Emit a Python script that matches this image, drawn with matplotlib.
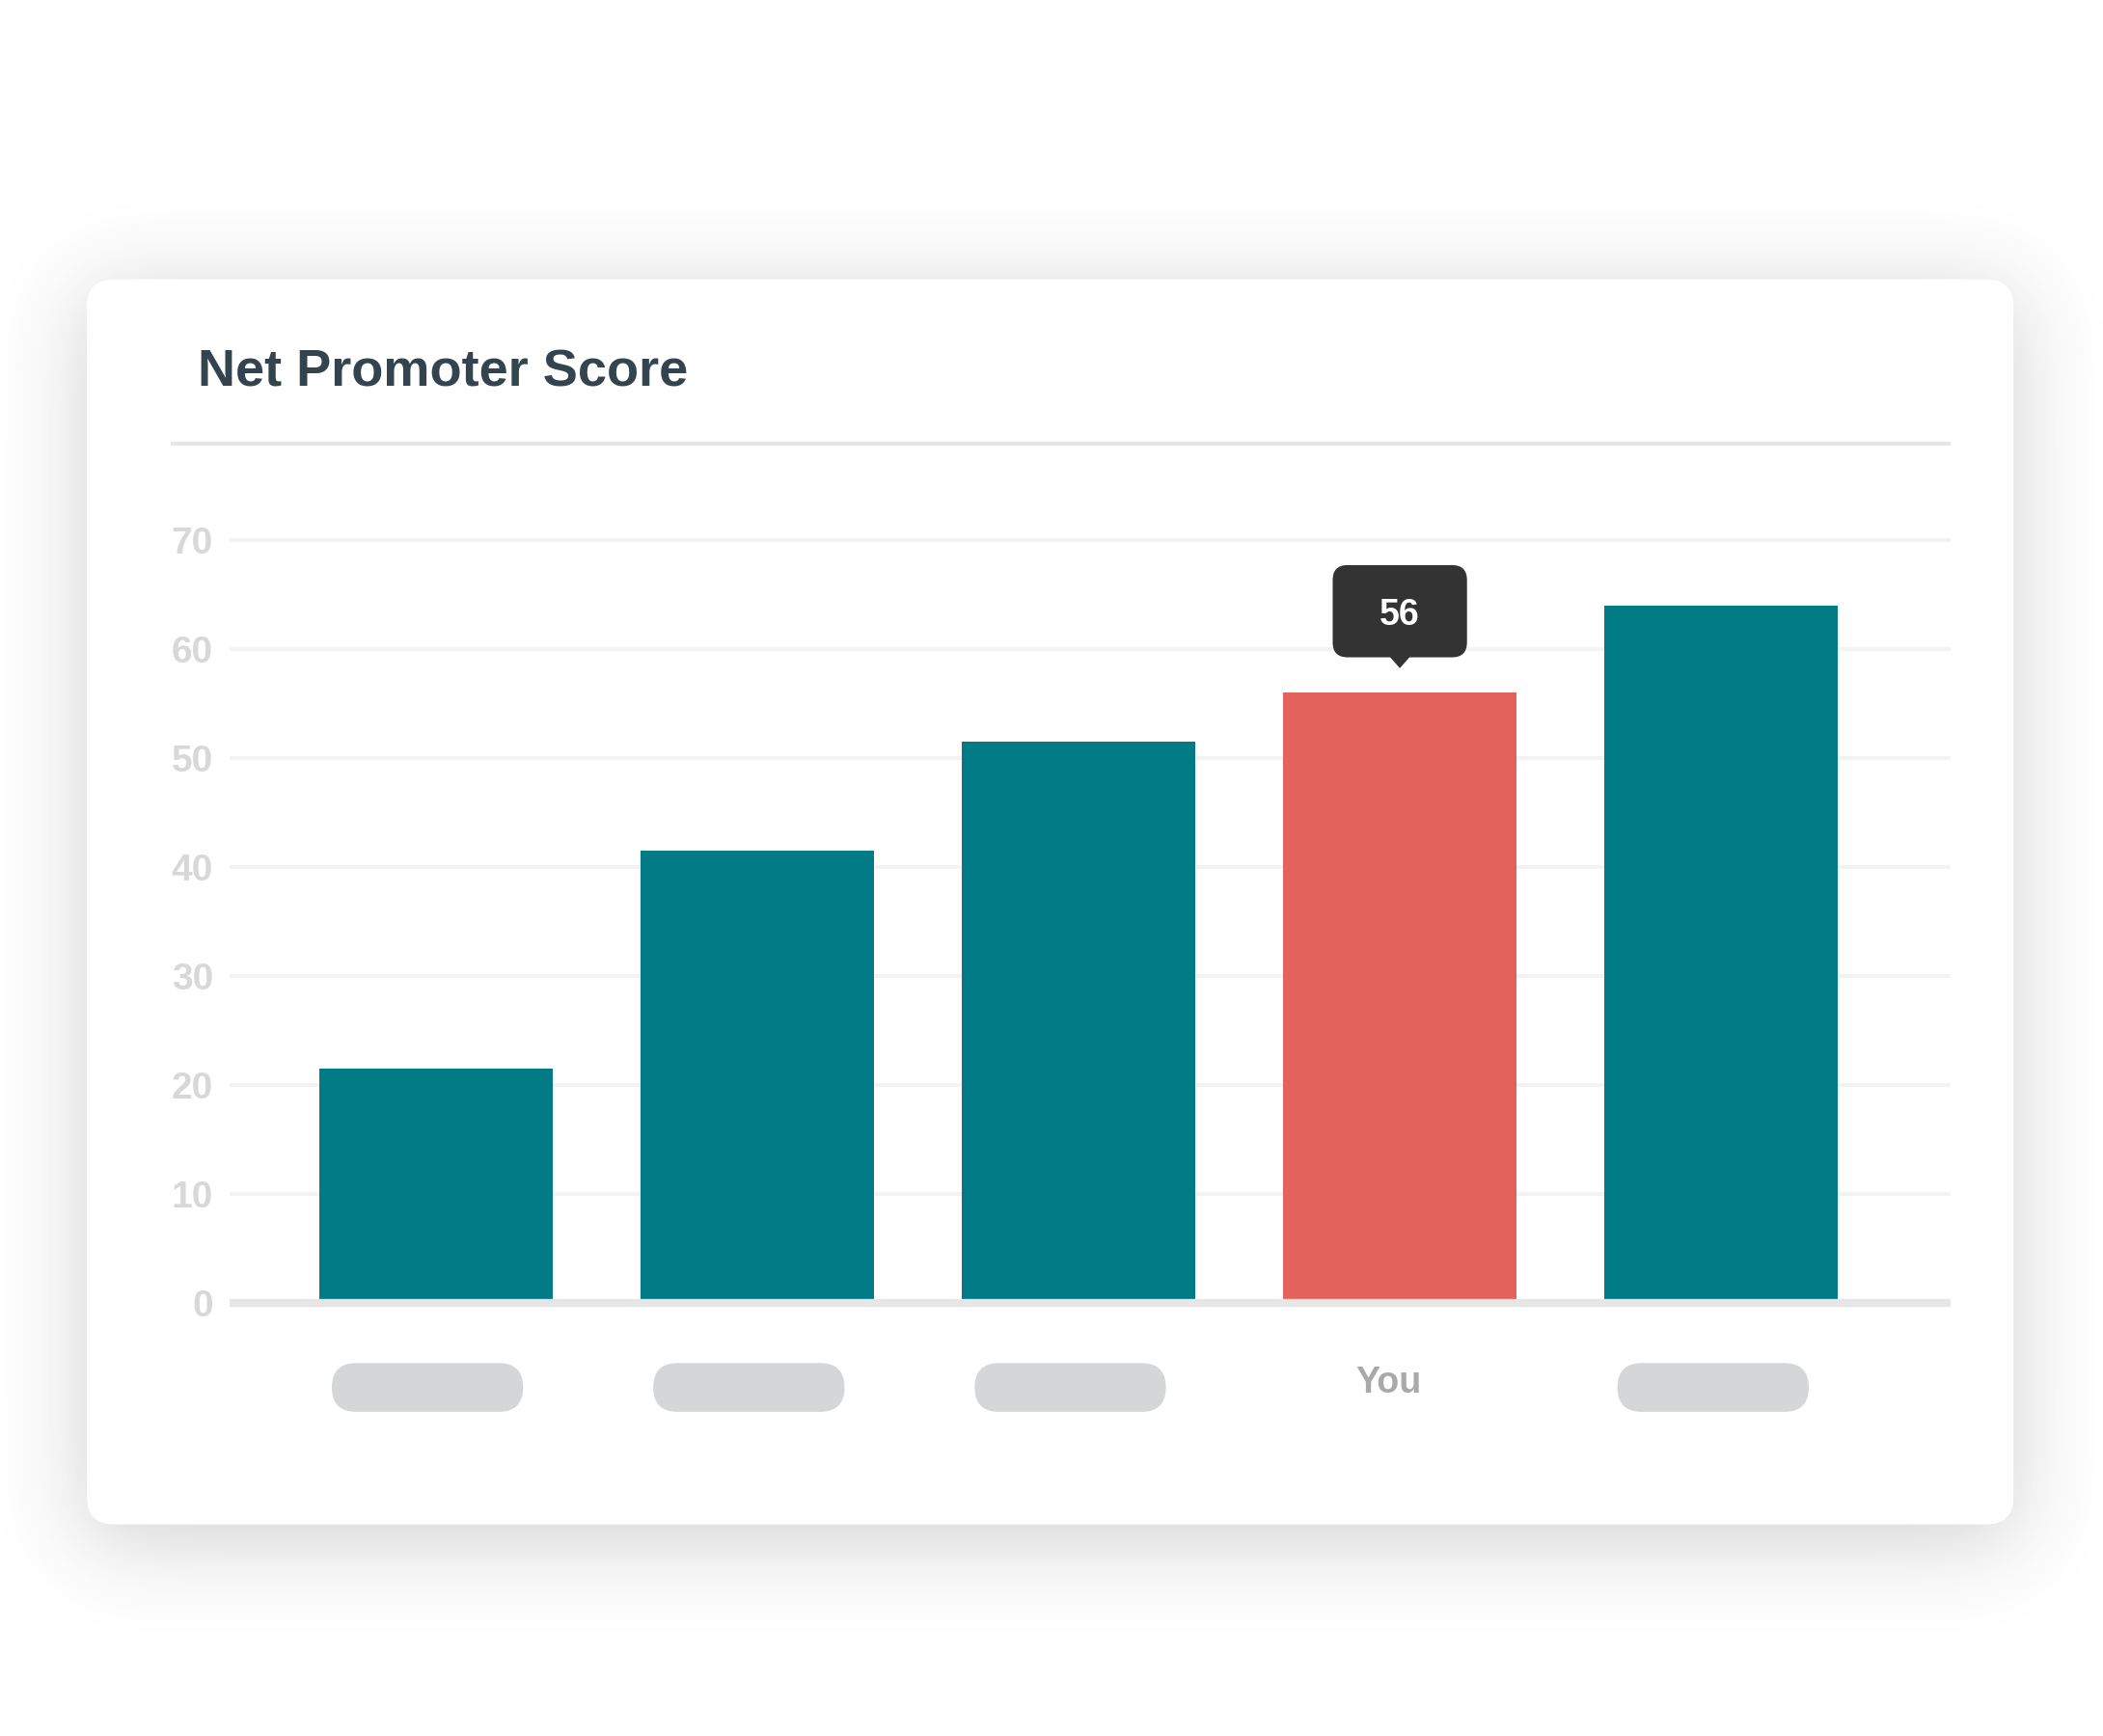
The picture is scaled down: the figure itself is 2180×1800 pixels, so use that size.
import math
import numpy as np
import matplotlib
matplotlib.use("Agg")
import matplotlib.pyplot as plt
from matplotlib.patches import FancyBboxPatch, Polygon

# ---- data ----
categories = ["", "", "", "You", ""]
values = [21.5, 41.5, 51.5, 56, 64]
highlight = [False, False, False, True, False]
yticks = [0, 10, 20, 30, 40, 50, 60, 70]
title = "Net Promoter Score"

TEAL = "#017c87"
RED = "#e3635c"

plt.rcParams['font.family'] = ['Liberation Sans', 'DejaVu Sans']

W, H = 1550, 1280  # layout units (scaled to 2180x1800 px)
fig = plt.figure(figsize=(21.8, 18), dpi=100)
fig.patch.set_facecolor("white")

bg = fig.add_axes([0, 0, 1, 1])
bg.set_xlim(0, W)
bg.set_ylim(H, 0)
bg.axis("off")
bg.set_zorder(0)

# ---- soft shadow ----
erf = np.vectorize(math.erf)
xs = np.linspace(0, W, 776)
ys = np.linspace(0, H, 641)
sig = 32.0
cx0, cx1, cy0, cy1 = 62, 1486, 214, 1138
fx = 0.5 * (erf((xs - cx0) / (sig * math.sqrt(2))) - erf((xs - cx1) / (sig * math.sqrt(2))))
fy = 0.5 * (erf((ys - cy0) / (sig * math.sqrt(2))) - erf((ys - cy1) / (sig * math.sqrt(2))))
a = 0.23 * fy[:, None] * fx[None, :]
img = np.zeros((len(ys), len(xs), 4))
img[..., 0] = 0.25
img[..., 1] = 0.25
img[..., 2] = 0.25
img[..., 3] = a
bg.imshow(img, extent=(0, W, H, 0), interpolation="bilinear", zorder=0, aspect="auto")

# ---- card ----
card = FancyBboxPatch((64, 206), 1420, 918, boxstyle="round,pad=0,rounding_size=20",
                      fc="white", ec="none", zorder=1)
bg.add_patch(card)

bg.text(146, 275, title, fontsize=39, fontweight="bold", color="#34444f",
        ha="left", va="center", zorder=3)
bg.plot([126, 1438], [327, 327], color="#e6e6e6", lw=3, solid_capstyle="butt", zorder=3)

# ---- chart axes ----
ax = fig.add_axes([169 / W, 1 - 977 / H, (1438 - 169) / W, (977 - 382) / H])
ax.set_zorder(2)
ax.patch.set_alpha(0)
x = np.arange(len(values))
colors = [RED if h else TEAL for h in highlight]
ax.bar(x, values, width=0.726, color=colors, zorder=3)
ax.set_xlim(-0.642, 4.715)
ax.set_ylim(-2, 72)
ax.set_yticks(yticks)
ax.set_yticklabels([str(t) for t in yticks])
ax.set_xticks([])
for s in ax.spines.values():
    s.set_visible(False)
ax.grid(axis="y", color="#f3f3f3", lw=3)
ax.set_axisbelow(True)
ax.axhline(0, color="#e6e6e6", lw=6, zorder=4)
ax.tick_params(axis="y", length=0, pad=12, labelsize=28, labelcolor="#d8d8d8")
for lab in ax.get_yticklabels():
    lab.set_fontweight("bold")

# ---- overlay: category labels (placeholders + "You") and tooltip ----
ov = fig.add_axes([0, 0, 1, 1])
ov.set_xlim(0, W)
ov.set_ylim(H, 0)
ov.axis("off")
ov.patch.set_alpha(0)
ov.set_zorder(4)

inv = ov.transData.inverted()
for i, (cat, v) in enumerate(zip(categories, values)):
    px, _ = inv.transform(ax.transData.transform((i, 0)))
    if cat:
        ov.text(px - 8, 1020, cat, fontsize=27, fontweight="bold", color="#a9a9a9",
                ha="center", va="center")
    else:
        pill = FancyBboxPatch((px - 6 - 70.5, 1005), 141, 36,
                              boxstyle="round,pad=0,rounding_size=18",
                              fc="#d4d6d7", ec="none")
        ov.add_patch(pill)
    if highlight[i]:
        tx, ty = inv.transform(ax.transData.transform((i, v)))
        bottom = ty - 26
        top = ty - 94
        box = FancyBboxPatch((tx - 49.5, top), 99, bottom - top,
                             boxstyle="round,pad=0,rounding_size=11",
                             fc="#333333", ec="none", zorder=5)
        ov.add_patch(box)
        ov.add_patch(Polygon([(tx - 8, bottom - 1), (tx + 8, bottom - 1), (tx, ty - 18)],
                             closed=True, fc="#333333", ec="none", zorder=5))
        ov.text(tx, (top + bottom) / 2, f"{v:g}", fontsize=27, fontweight="bold",
                color="white", ha="center", va="center_baseline", zorder=6)

fig.savefig("out.png", dpi=100, facecolor="white")
